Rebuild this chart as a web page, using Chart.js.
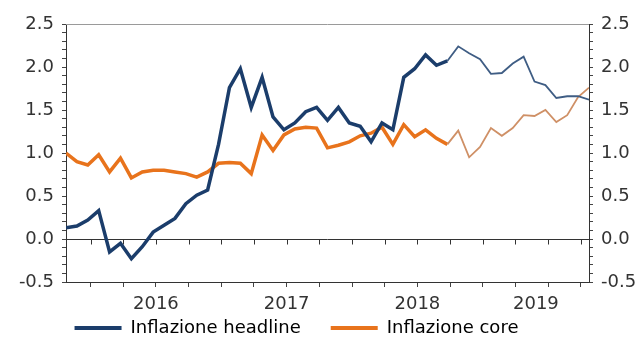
<!DOCTYPE html>
<html>
<head>
<meta charset="utf-8">
<script src="https://cdn.jsdelivr.net/npm/chart.js@4.4.1/dist/chart.umd.min.js"></script>
<style>
  html, body { margin: 0; padding: 0; background: #fff; }
  #wrap { width: 643px; height: 343px; }
</style>
</head>
<body>
<div id="wrap"><canvas id="grafico" width="643" height="343"></canvas></div>
<script>
// dati mensili, ott 2015 - ott 2019
var mesi = [
    'ott 2015', 'nov 2015', 'dic 2015',
    'gen 2016', 'feb 2016', 'mar 2016', 'apr 2016', 'mag 2016', 'giu 2016', 'lug 2016', 'ago 2016', 'set 2016', 'ott 2016', 'nov 2016', 'dic 2016',
    'gen 2017', 'feb 2017', 'mar 2017', 'apr 2017', 'mag 2017', 'giu 2017', 'lug 2017', 'ago 2017', 'set 2017', 'ott 2017', 'nov 2017', 'dic 2017',
    'gen 2018', 'feb 2018', 'mar 2018', 'apr 2018', 'mag 2018', 'giu 2018', 'lug 2018', 'ago 2018', 'set 2018', 'ott 2018', 'nov 2018', 'dic 2018',
    'gen 2019', 'feb 2019', 'mar 2019', 'apr 2019', 'mag 2019', 'giu 2019', 'lug 2019', 'ago 2019', 'set 2019', 'ott 2019'
];
var headline = [0.13, 0.15, 0.22, 0.33, -0.15, -0.05, -0.23, -0.09, 0.08, 0.16, 0.24, 0.41,
    0.51, 0.57, 1.10, 1.76, 1.98, 1.53, 1.88, 1.42, 1.27, 1.35, 1.48, 1.53,
    1.38, 1.53, 1.35, 1.31, 1.13, 1.35, 1.27, 1.88, 1.98, 2.14, 2.02, 2.07,
    2.24, 2.16, 2.09, 1.92, 1.93, 2.04, 2.12, 1.83, 1.79, 1.64, 1.66, 1.66, 1.62];
var core = [1.00, 0.90, 0.86, 0.98, 0.78, 0.94, 0.71, 0.78, 0.80, 0.80, 0.78, 0.76,
    0.72, 0.78, 0.88, 0.89, 0.88, 0.76, 1.21, 1.03, 1.21, 1.28, 1.30, 1.29,
    1.06, 1.09, 1.13, 1.20, 1.23, 1.30, 1.10, 1.33, 1.19, 1.27, 1.17, 1.10,
    1.26, 0.95, 1.07, 1.29, 1.20, 1.29, 1.44, 1.43, 1.50, 1.36, 1.44, 1.65, 1.76];
var anni = ['2016', '2017', '2018', '2019'];
var yMin = -0.5, yMax = 2.5;

var inizioAnno = 2.25;   // posizione del 1 gennaio 2016 sull'asse
var primoStimato = 35;   // da qui la linea diventa sottile (previsione)

var BLU = '#1b3d6b', BLU_CHIARO = '#3f5d84';
var ARANCIO = '#e8731c', ARANCIO_CHIARO = '#cf9066';

Chart.defaults.font.family = '"DejaVu Sans", sans-serif';
Chart.defaults.font.size = 18;
Chart.defaults.color = '#333';

function punti(serie) {
    return serie.map(function (v, i) { return { x: i, y: v }; });
}

function posAnno(k, max) {
    var a = inizioAnno + 12 * k;
    return (Math.max(a, 0) + Math.min(a + 12, max)) / 2;
}

function tickX(scale) {
    var t = [];
    for (var q = inizioAnno; q <= scale.max; q += 3) t.push({ value: q });
    anni.forEach(function (nome, k) {
        var p = posAnno(k, scale.max);
        var esiste = t.some(function (o) { return Math.abs(o.value - p) < 0.01; });
        if (!esiste) t.push({ value: p, finto: true });
    });
    t.sort(function (a, b) { return a.value - b.value; });
    scale.ticks = t;
}

function etichettaX(value) {
    for (var k = 0; k < anni.length; k++) {
        if (Math.abs(posAnno(k, mesi.length - 1) - value) < 0.01) return anni[k];
    }
    return '';
}

function tickY(scale) {
    var t = [];
    for (var v = yMin; v <= yMax + 0.001; v += 0.1) t.push({ value: Math.round(v * 10) / 10 });
    scale.ticks = t;
}

function etichettaY(value) {
    var r = Math.round(value * 10);
    return r % 5 === 0 ? value.toFixed(1) : '';
}

function assey(pos, larghezza) {
    return {
        type: 'linear', position: pos, min: yMin, max: yMax,
        afterBuildTicks: tickY,
        afterFit: function (s) { s.width = larghezza; },
        border: { display: true, color: '#333', width: 1 },
        grid: { drawOnChartArea: false, drawTicks: true, tickLength: 4, tickColor: '#444' },
        ticks: { autoSkip: false, padding: 8, callback: etichettaY, color: '#333' }
    };
}

// cornice superiore, linea dello zero con tacche trimestrali, legenda compatta
var cornice = {
    id: 'cornice',
    beforeLayout: function (chart) {
        var lg = chart.legend;
        if (lg && !lg._compatta) {
            var fit0 = lg.fit;
            lg.fit = function () { fit0.call(this); this.height = 27; };
            lg._compatta = true;
        }
    },
    afterLayout: function (chart) {
        var lg = chart.legend;
        lg.left -= 25; lg.right -= 25;
        lg.top -= 27;
    },
    beforeDatasetsDraw: function (chart) {
        var ctx = chart.ctx, a = chart.chartArea;
        var sx = chart.scales.x;
        var y0 = Math.round(chart.scales.y.getPixelForValue(0)) + 0.5;
        ctx.save();
        ctx.lineWidth = 1;
        ctx.strokeStyle = '#9a9a9a';
        ctx.beginPath();
        ctx.moveTo(a.left, Math.round(a.top) + 0.5);
        ctx.lineTo(a.right, Math.round(a.top) + 0.5);
        ctx.stroke();
        ctx.strokeStyle = '#333';
        ctx.beginPath();
        ctx.moveTo(a.left, y0);
        ctx.lineTo(a.right, y0);
        sx.ticks.forEach(function (t) {
            if (t.finto) return;
            var x = Math.round(sx.getPixelForValue(t.value)) + 0.5;
            ctx.moveTo(x, y0);
            ctx.lineTo(x, y0 + 5);
        });
        ctx.stroke();
        ctx.restore();
    }
};

new Chart(document.getElementById('grafico'), {
    type: 'line',
    data: {
        labels: mesi,
        datasets: [
            {
                label: 'Inflazione headline', data: punti(headline),
                borderColor: BLU, borderWidth: 3.5, pointRadius: 0, tension: 0,
                segment: {
                    borderColor: function (c) { return c.p0DataIndex >= primoStimato ? BLU_CHIARO : BLU; },
                    borderWidth: function (c) { return c.p0DataIndex >= primoStimato ? 1.8 : 3.5; }
                }
            },
            {
                label: 'Inflazione core', data: punti(core),
                borderColor: ARANCIO, borderWidth: 3.5, pointRadius: 0, tension: 0,
                segment: {
                    borderColor: function (c) { return c.p0DataIndex >= primoStimato ? ARANCIO_CHIARO : ARANCIO; },
                    borderWidth: function (c) { return c.p0DataIndex >= primoStimato ? 1.8 : 3.5; }
                }
            }
        ]
    },
    options: {
        responsive: false,
        animation: false,
        layout: { padding: { top: 24, left: 0, right: 0, bottom: 0 } },
        plugins: {
            tooltip: { enabled: false },
            legend: {
                position: 'bottom',
                labels: {
                    boxWidth: 47, boxHeight: 4, padding: 30, color: '#222',
                    generateLabels: function (chart) {
                        return chart.data.datasets.map(function (ds, i) {
                            return { text: ds.label, fillStyle: ds.borderColor, strokeStyle: ds.borderColor, lineWidth: 0, hidden: false, datasetIndex: i };
                        });
                    }
                }
            }
        },
        scales: {
            x: {
                type: 'linear', min: 0, max: mesi.length - 1,
                afterBuildTicks: tickX,
                afterFit: function (s) { s.height = 34; },
                border: { display: true, color: '#333', width: 1 },
                grid: {
                    drawOnChartArea: false, tickLength: 5,
                    tickColor: function (c) { return c.tick && c.tick.finto ? 'rgba(0,0,0,0)' : '#444'; }
                },
                ticks: { autoSkip: false, maxRotation: 0, padding: 7, callback: etichettaX, color: '#333' }
            },
            y: assey('left', 66),
            y2: assey('right', 54)
        }
    },
    plugins: [cornice]
});
</script>
</body>
</html>
